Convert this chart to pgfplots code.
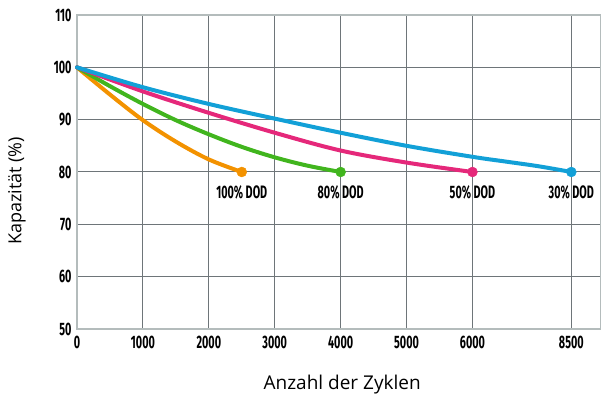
\documentclass[border=0pt]{standalone}
\usepackage{pgfplots}
\pgfplotsset{compat=1.18}
\usepackage{fontspec}
\setmainfont{Open Sans}
\newfontfamily\condfont[FakeStretch=0.6]{Fira Sans}
\definecolor{cOrange}{HTML}{F39200}
\definecolor{cGreen}{HTML}{41B51E}
\definecolor{cPink}{HTML}{E5287A}
\definecolor{cBlue}{HTML}{12A0D7}
\definecolor{cGrid}{HTML}{6E7579}
\definecolor{cAxis}{HTML}{B4BCBC}
\begin{document}
\begin{tikzpicture}
\begin{axis}[name=ax, scale only axis, width=524pt, height=314pt,
  xmin=0, xmax=9250, ymin=50, ymax=110,
  x coord trafo/.code={\pgfmathparse{#1>6000 ? 6000+(#1-6000)*0.6 : #1}},
  x coord inv trafo/.code={\pgfmathparse{#1>6000 ? 6000+(#1-6000)/0.6 : #1}},
  xtick={0,1000,2000,3000,4000,5000,6000,8500},
  xticklabels={0,1000,2000,3000,4000,5000,6000,8500},
  ytick={50,60,70,80,90,100,110},
  yticklabels={50,60,70,80,90,100,110},
  major tick length=0pt,
  grid=major,
  grid style={cGrid, line width=1pt},
  axis line style={cAxis, line width=1.2pt},
  tick label style={font=\condfont\bfseries\fontsize{18}{18}\selectfont, black},
  xticklabel style={yshift=-4pt},
  yticklabel style={xshift=-2pt},
  xlabel={Anzahl der Zyklen},
  ylabel={Kapazität (\%)},
  xlabel style={at={(axis description cs:0.506,-0.177)}, anchor=center, font=\fontsize{19}{19}\selectfont},
  ylabel style={at={(axis description cs:-0.1145,0.44)}, anchor=center, rotate=0, font=\fontsize{18}{18}\selectfont},
  clip=false,
  every axis plot/.append style={line width=4pt, smooth, tension=0.55, line cap=round, mark=*, mark size=5pt, mark options={line width=0.4pt}},
]
\addplot[cOrange, mark indices={6}] coordinates {(0,100) (500,94.8) (1000,89.9) (1500,85.8) (2000,82.4) (2500,80)};
\addplot[cGreen, mark indices={9}] coordinates {(0,100) (500,96.4) (1000,93.0) (1500,89.9) (2000,87.2) (2500,84.8) (3000,82.8) (3500,81.2) (4000,80)};
\addplot[cPink, mark indices={7}] coordinates {(0,100) (1000,95.4) (2000,91.3) (3000,87.5) (4000,84.1) (5000,81.8) (6000,80)};
\addplot[cBlue, mark indices={10}] coordinates {(0,100) (1000,96.2) (2000,93.0) (3000,90.2) (4000,87.5) (5000,85.0) (6000,82.9) (6833,82.0) (7667,81.1) (8500,80)};
\addplot[draw=none, mark=none, nodes near coords, point meta=explicit symbolic,
  nodes near coords style={anchor=north, yshift=-13pt, inner sep=0pt, font=\condfont\bfseries\fontsize{18}{18}\selectfont, black}]
  coordinates {(2500,80)[100\% DOD] (4000,80)[80\% DOD] (6000,80)[50\% DOD] (8500,80)[30\% DOD]};
\end{axis}
\pgfresetboundingbox
\path ([xshift=-77pt,yshift=-71pt]ax.south west) rectangle ([yshift=15pt]ax.north east);
\end{tikzpicture}
\end{document}
